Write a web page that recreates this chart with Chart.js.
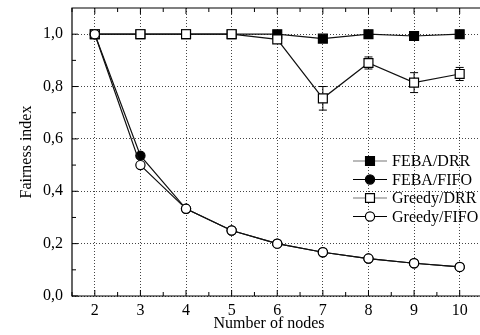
<!DOCTYPE html>
<html>
<head>
<meta charset="utf-8">
<script src="https://cdn.jsdelivr.net/npm/chart.js@4/dist/chart.umd.min.js"></script>
<style>
  html, body { margin: 0; padding: 0; background: #fff; overflow: hidden; }
  #wrap { width: 480px; height: 335px; overflow: hidden; }
  canvas { display: block; }
</style>
</head>
<body>
<div id="wrap"><canvas id="fairChart" width="490" height="335"></canvas></div>
<script>
// data
const nodes = [2, 3, 4, 5, 6, 7, 8, 9, 10];
const febaDrr = [1.0, 1.0, 1.0, 1.0, 1.0, 0.983, 1.0, 0.993, 1.0];
const febaFifo = [1.0, 0.536, 0.333, 0.25, 0.2, 0.167, 0.143, 0.125, 0.111];
const greedyDrr = [1.0, 1.0, 1.0, 1.0, 0.98, 0.755, 0.89, 0.815, 0.848];
const greedyDrrErr = [0, 0, 0, 0, 0, 0.045, 0.023, 0.038, 0.025];
const greedyFifo = [1.0, 0.5, 0.333, 0.25, 0.2, 0.167, 0.143, 0.125, 0.111];

const xTicks = [2, 3, 4, 5, 6, 7, 8, 9, 10];
const yTicks = [0, 0.2, 0.4, 0.6, 0.8, 1.0];

const FONT = "'Liberation Serif', 'Times New Roman', serif";
const toPts = vals => vals.map((y, i) => ({ x: nodes[i], y }));

const series = [
    { label: 'FEBA/DRR', data: febaDrr, style: 'rect', fill: '#000', legendLine: '#777', order: 3 },
    { label: 'FEBA/FIFO', data: febaFifo, style: 'circle', fill: '#000', legendLine: '#000', order: 2 },
    { label: 'Greedy/DRR', data: greedyDrr, style: 'rect', fill: '#fff', legendLine: '#777', order: 1 },
    { label: 'Greedy/FIFO', data: greedyFifo, style: 'circle', fill: '#fff', legendLine: '#000', order: 0 }
];

const markerRadius = { rect: 6.3, circle: 4.6 };

const noPadding = scale => {
    scale.paddingLeft = 0;
    scale.paddingRight = 0;
    scale.paddingTop = 0;
    scale.paddingBottom = 0;
};

// error bars, inside-facing ticks, frame, titles and legend
const decorations = {
    id: 'decorations',
    beforeDatasetsDraw(chart) {
        const { ctx } = chart;
        const x = chart.scales.x, y = chart.scales.y;
        ctx.save();
        ctx.strokeStyle = '#000';
        ctx.lineWidth = 1;
        greedyDrr.forEach((v, i) => {
            const e = greedyDrrErr[i];
            if (!e) return;
            const px = x.getPixelForValue(nodes[i]);
            const top = y.getPixelForValue(v + e);
            const bot = y.getPixelForValue(v - e);
            ctx.beginPath();
            ctx.moveTo(px, top); ctx.lineTo(px, bot);
            ctx.moveTo(px - 4, top); ctx.lineTo(px + 4, top);
            ctx.moveTo(px - 4, bot); ctx.lineTo(px + 4, bot);
            ctx.stroke();
        });
        ctx.restore();
    },
    afterDraw(chart) {
        const { ctx, chartArea: a } = chart;
        const x = chart.scales.x, y = chart.scales.y;
        ctx.save();
        ctx.strokeStyle = '#000';
        ctx.lineWidth = 1.2;
        ctx.beginPath();
        ctx.moveTo(a.right, a.top); ctx.lineTo(a.left, a.top);
        ctx.lineTo(a.left, a.bottom); ctx.lineTo(a.right, a.bottom);
        ctx.stroke();

        ctx.lineWidth = 1;
        ctx.beginPath();
        for (let v = 1.5; v <= 10.5; v += 0.5) {
            const px = x.getPixelForValue(v);
            const len = Number.isInteger(v) ? 6 : 4;
            ctx.moveTo(px, a.bottom); ctx.lineTo(px, a.bottom - len);
            ctx.moveTo(px, a.top); ctx.lineTo(px, a.top + len);
        }
        for (let k = 0; k <= 10; k++) {
            const py = y.getPixelForValue(k / 10);
            const len = k % 2 === 0 ? 6 : 4;
            ctx.moveTo(a.left, py); ctx.lineTo(a.left + len, py);
        }
        ctx.stroke();

        // axis titles
        ctx.fillStyle = '#000';
        ctx.font = '16px ' + FONT;
        ctx.textAlign = 'center';
        ctx.textBaseline = 'middle';
        ctx.fillText('Number of nodes', 269, 324);
        ctx.save();
        ctx.translate(27, (a.top + a.bottom) / 2);
        ctx.rotate(-Math.PI / 2);
        ctx.fillText('Fairness index', 0, 0);
        ctx.restore();

        // legend
        const lx0 = 353, lx1 = 387, lm = 370, tx = 392;
        const rows = [161, 179.5, 198, 216.5];
        ctx.font = '16px ' + FONT;
        ctx.textAlign = 'left';
        series.forEach((s, i) => {
            const ry = rows[i];
            ctx.strokeStyle = s.legendLine;
            ctx.lineWidth = 1.2;
            ctx.beginPath();
            ctx.moveTo(lx0, ry); ctx.lineTo(lx1, ry);
            ctx.stroke();
            ctx.fillStyle = s.fill;
            ctx.strokeStyle = '#000';
            Chart.helpers.drawPoint(ctx, {
                pointStyle: s.style, radius: markerRadius[s.style], borderWidth: 1.2, rotation: 0
            }, lm, ry);
            ctx.fillStyle = '#000';
            ctx.fillText(s.label, tx, ry + 1);
        });
        ctx.restore();
    }
};

new Chart(document.getElementById('fairChart'), {
    type: 'line',
    data: {
        datasets: series.map(s => ({
            label: s.label,
            data: toPts(s.data),
            order: s.order,
            borderColor: '#111',
            borderWidth: 1.2,
            backgroundColor: s.fill,
            pointStyle: s.style,
            pointRadius: markerRadius[s.style],
            pointBorderWidth: 1.2,
            pointBorderColor: '#000',
            pointBackgroundColor: s.fill,
            tension: 0
        }))
    },
    options: {
        responsive: false,
        animation: false,
        layout: { padding: { top: 8, right: 1, left: 0, bottom: 0 } },
        plugins: {
            legend: { display: false },
            tooltip: { enabled: false }
        },
        scales: {
            x: {
                type: 'linear',
                min: 1.5,
                max: 10.5,
                afterBuildTicks: scale => { scale.ticks = xTicks.map(value => ({ value })); },
                afterFit: scale => { scale.height = 39; noPadding(scale); },
                ticks: {
                    color: '#000',
                    padding: 5,
                    font: { family: FONT, size: 16 },
                    callback: v => String(v)
                },
                grid: { color: '#444', lineWidth: 1, drawTicks: false },
                border: { display: false, dash: [1, 2] }
            },
            y: {
                min: 0,
                max: 1.1,
                afterBuildTicks: scale => { scale.ticks = yTicks.map(value => ({ value })); },
                afterFit: scale => { scale.width = 72; noPadding(scale); },
                ticks: {
                    color: '#000',
                    padding: 9,
                    font: { family: FONT, size: 16 },
                    callback: v => v.toFixed(1).replace('.', ',')
                },
                grid: { color: '#444', lineWidth: 1, drawTicks: false },
                border: { display: false, dash: [1, 2] }
            }
        }
    },
    plugins: [decorations]
});
</script>
</body>
</html>
